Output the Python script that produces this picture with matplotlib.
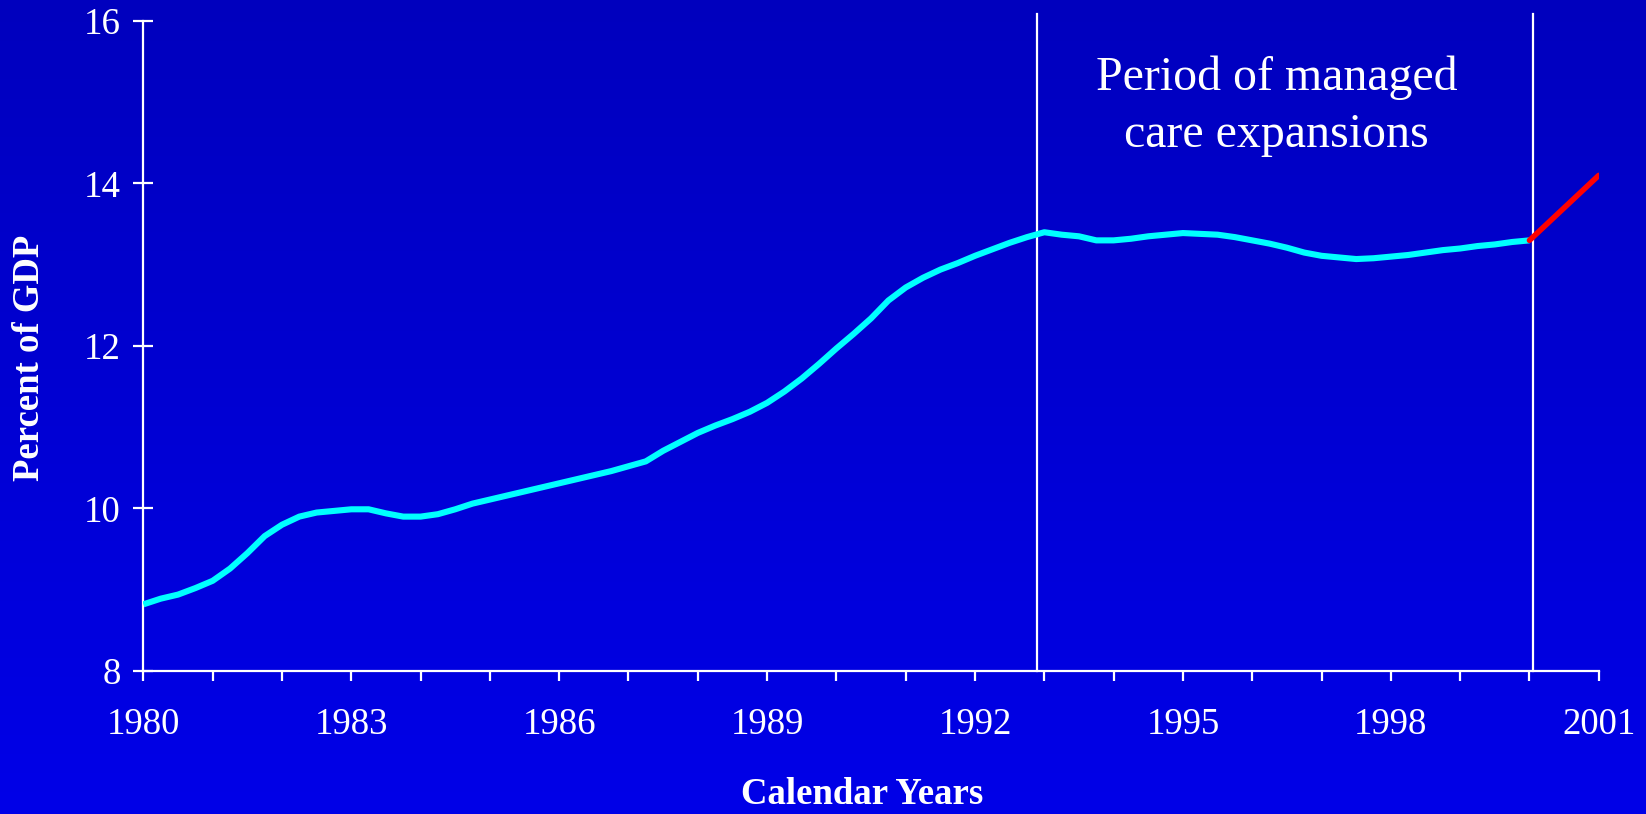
import numpy as np
import matplotlib
matplotlib.use('Agg')
import matplotlib.pyplot as plt

plt.rcParams['font.family'] = ['Liberation Serif', 'DejaVu Serif']

# quarterly health spending, percent of GDP, 1980 - 2000
quarters = np.arange(1980, 2000.01, 0.25)
gdp_share = [8.82, 8.89, 8.94, 9.02, 9.11, 9.26, 9.45, 9.66,
             9.80, 9.90, 9.95, 9.97, 9.99, 9.99, 9.94, 9.90,
             9.90, 9.93, 9.99, 10.06, 10.11, 10.16, 10.21, 10.26,
             10.31, 10.36, 10.41, 10.46, 10.52, 10.58, 10.71, 10.82,
             10.93, 11.02, 11.10, 11.19, 11.30, 11.44, 11.60, 11.78,
             11.97, 12.15, 12.34, 12.56, 12.72, 12.84, 12.94, 13.02,
             13.11, 13.19, 13.27, 13.34, 13.40, 13.37, 13.35, 13.30,
             13.30, 13.32, 13.35, 13.37, 13.39, 13.38, 13.37, 13.34,
             13.30, 13.26, 13.21, 13.15, 13.11, 13.09, 13.07, 13.08,
             13.10, 13.12, 13.15, 13.18, 13.20, 13.23, 13.25, 13.28,
             13.30]

# projection
proj_years = [2000.0, 2001.0]
proj_share = [13.30, 14.10]

# managed care period markers
period_lines = [1992.9, 2000.05]

fig = plt.figure(figsize=(16.46, 8.14), dpi=100)

# gradient background
bg = fig.add_axes([0, 0, 1, 1])
grad = np.linspace(0, 1, 256).reshape(-1, 1)
top = np.array([0, 0, 190]) / 255
bot = np.array([0, 0, 232]) / 255
img = top + (bot - top) * grad[:, :, None]
bg.imshow(img, aspect='auto', extent=[0, 1, 0, 1])
bg.axis('off')

ax = fig.add_axes([0.0871, 0.1757, 0.8842, 0.7985])
ax.patch.set_visible(False)

ax.plot(quarters, gdp_share, color='#00FFFF', lw=4.4, solid_capstyle='butt', zorder=3)
ax.plot(proj_years, proj_share, color='#FF0000', lw=4, solid_capstyle='round', zorder=4)

for x in period_lines:
    ax.plot([x, x], [8, 16.09], color='white', lw=1.6, clip_on=False, zorder=2)

ax.text(1996.35, 15.58, 'Period of managed\ncare expansions', color='white',
        fontsize=34.5, ha='center', va='top', linespacing=1.4)

ax.set_xlim(1980, 2001)
ax.set_ylim(8, 16)
ax.set_xticks(np.arange(1980, 2002, 3))
ax.set_xticks(np.arange(1980, 2002, 1), minor=True)
ax.set_yticks([8, 10, 12, 14, 16])

for s in ['top', 'right']:
    ax.spines[s].set_visible(False)
for s in ['left', 'bottom']:
    ax.spines[s].set_color('white')
    ax.spines[s].set_linewidth(1.6)

ax.tick_params(axis='y', direction='inout', length=14.5, width=1.6, colors='white',
               labelsize=26.5, pad=9)
ax.tick_params(axis='x', which='both', direction='out', length=7.2, width=1.6,
               colors='white', labelsize=26.5, pad=19)

fig.text(861.7 / 1646, 1 - 812 / 814, 'Calendar Years', color='white', fontsize=26.5,
         fontweight='bold', ha='center', va='bottom')
fig.text(30 / 1646, 1 - 357.5 / 814, 'Percent of GDP', color='white', fontsize=26.5,
         fontweight='bold', ha='center', va='center', rotation=90)

plt.savefig('out.png', dpi=100)
